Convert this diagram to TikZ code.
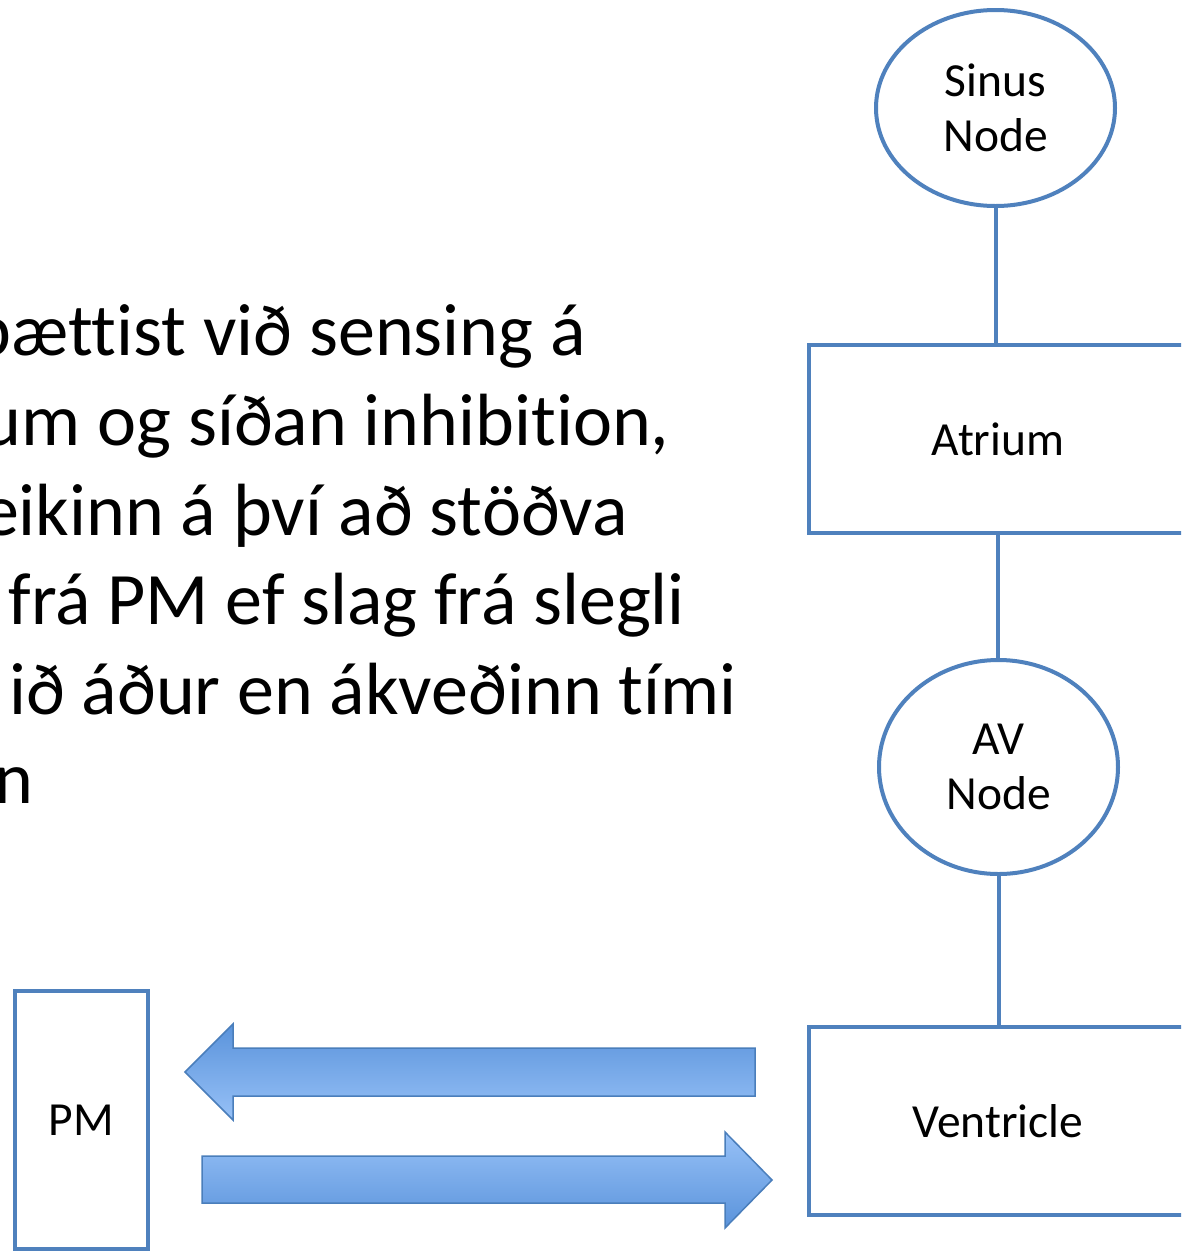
\documentclass[tikz,border=0pt]{standalone}
\usepackage{fontspec}
\setmainfont{Carlito}[Ligatures=NoCommon]
\usetikzlibrary{shapes.geometric}
\definecolor{edgeblue}{HTML}{4F81BD}
\definecolor{arrowdark}{HTML}{5A93DB}
\definecolor{arrowlight}{HTML}{97C1F7}
\definecolor{arrowedge}{HTML}{4A7EBB}
\tikzset{
  chartline/.style={draw=edgeblue, line width=4pt},
  nodeoval/.style={chartline, ellipse, inner sep=0pt, align=center,
    font=\fontsize{47.5}{55}\selectfont},
  chamber/.style={chartline, rectangle, inner sep=0pt, align=center,
    font=\fontsize{47.5}{55}\selectfont},
  bodyline/.style={inner sep=0pt, anchor=base east,
    font=\fontsize{74}{90}\selectfont},
  bigarrow/.style={draw=arrowedge, line width=1.5pt, line join=miter}
}
\begin{document}
\begin{tikzpicture}[x=1pt, y=-1pt]
\useasboundingbox (0,0) rectangle (1181,1253);
\clip (0,0) rectangle (1181,1253);
\fill[white] (0,0) rectangle (1181,1253);

% paragraph running off the left edge
\node[bodyline] (l1) at (586,355) {þættist við sensing á};
\node[bodyline] (l2) at (670,445) {um og síðan inhibition,};
\node[bodyline] (l3) at (628,535) {eikinn á því að stöðva};
\node[bodyline] (l4) at (685,624) {frá PM ef slag frá slegli};
\node[bodyline] (l5) at (737,714) {ið áður en ákveðinn tími};
\node[bodyline] (l6) at (34,803) {n};

% conduction chain
\node[nodeoval, minimum width=239pt, minimum height=196pt] (sinus) at (995.5,108) {Sinus\\Node};
\node[chamber, minimum width=378pt, minimum height=188pt] (atrium) at (998,439) {Atrium};
\node[nodeoval, minimum width=239pt, minimum height=214pt] (av) at (998.5,767) {AV\\Node};
\node[chamber, minimum width=378pt, minimum height=188pt] (ventricle) at (998,1121) {Ventricle};
\node[chamber, minimum width=133pt, minimum height=258pt] (pm) at (81.5,1120) {PM};

\draw[chartline] (sinus.south) -- (sinus.south |- atrium.north);
\draw[chartline] (atrium.south) -- (atrium.south |- av.north);
\draw[chartline] (av.south) -- (av.south |- ventricle.north);

% sensing and pacing arrows between pacemaker and ventricle
\shade[bigarrow, top color=arrowdark, bottom color=arrowlight]
  (755,1048) -- (233,1048) -- (233,1024) -- (185,1072) -- (233,1120)
  -- (233,1096) -- (755,1096) -- cycle;
\shade[bigarrow, top color=arrowlight, bottom color=arrowdark]
  (202,1156) -- (725,1156) -- (725,1132) -- (772,1180) -- (725,1228)
  -- (725,1203) -- (202,1203) -- cycle;
\end{tikzpicture}
\end{document}
